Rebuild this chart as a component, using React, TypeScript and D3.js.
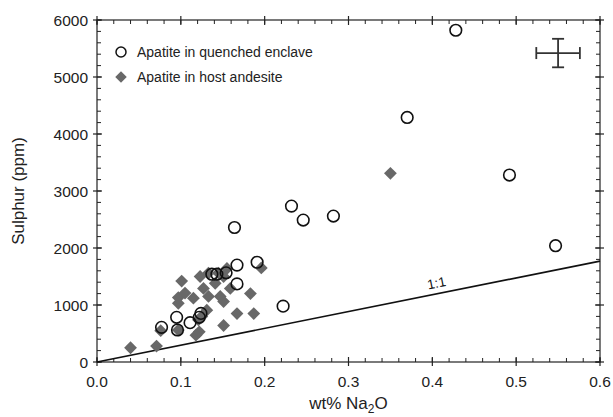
import React from "react";
import * as d3 from "d3";

const enclaveNa2O = [0.428, 0.37, 0.492, 0.547, 0.282, 0.232, 0.246, 0.164, 0.167, 0.191, 0.167, 0.222, 0.137, 0.143, 0.154, 0.077, 0.095, 0.096, 0.111, 0.122, 0.124];
const enclaveS = [5820, 4290, 3280, 2040, 2560, 2735, 2490, 2360, 1700, 1750, 1370, 980, 1540, 1540, 1565, 608, 784, 561, 690, 784, 853];

const hostNa2O = [0.04, 0.071, 0.076, 0.097, 0.118, 0.122, 0.121, 0.131, 0.151, 0.167, 0.187, 0.151, 0.097, 0.097, 0.105, 0.115, 0.133, 0.147, 0.127, 0.159, 0.183, 0.101, 0.123, 0.141, 0.151, 0.155, 0.133, 0.196, 0.35, 0.125, 0.145];
const hostS = [250, 280, 550, 560, 470, 530, 740, 910, 640, 850, 850, 1060, 1030, 1130, 1210, 1120, 1150, 1150, 1290, 1290, 1200, 1420, 1500, 1380, 1500, 1640, 1560, 1650, 3310, 800, 1560];

const xTicks = [0, 0.1, 0.2, 0.3, 0.4, 0.5, 0.6];
const yTicks = [0, 1000, 2000, 3000, 4000, 5000, 6000];
const legendLabels = ["Apatite in quenched enclave", "Apatite in host andesite"];
const oneToOneX = [0, 0.6];
const oneToOneY = [0, 1770];
const errCenter = [0.55, 5420];
const errSize = [0.026, 250];

const W = 613, H = 417;
const L = 97, R = 600, T = 20, B = 362;
const FONT = "'Liberation Sans', Arial, Helvetica, sans-serif";

export default function App() {
  const x = d3.scaleLinear().domain([0, 0.6]).range([L, R]);
  const y = d3.scaleLinear().domain([0, 6000]).range([B, T]);
  const xMinor = d3.range(0, 0.6001, 0.02);
  const yMinor = d3.range(0, 6001, 200);
  const col = "#222";
  const diamond = d3.symbol().type(d3.symbolSquare).size(82)();
  const legDiamond = d3.symbol().type(d3.symbolSquare).size(66)();
  const line = d3.line<number>().x((d, i) => x(oneToOneX[i])).y((d, i) => y(oneToOneY[i]));
  const ang = (Math.atan2(y(0) - y(oneToOneY[1]), x(oneToOneX[1]) - x(0)) * 180) / Math.PI;
  const lx = x(0.406);
  const ly = y((0.406 * oneToOneY[1]) / oneToOneX[1]) - 6;
  const ex = x(errCenter[0]), ey = y(errCenter[1]);
  const ex0 = x(errCenter[0] - errSize[0]), ex1 = x(errCenter[0] + errSize[0]);
  const ey0 = y(errCenter[1] - errSize[1]), ey1 = y(errCenter[1] + errSize[1]);
  return (
    <svg width={W} height={H} style={{ position: "absolute", left: 0, top: 0, background: "#fff" }} fontFamily={FONT}>
      <rect x={0} y={0} width={W} height={H} fill="#fff" />
      {xMinor.map((v, i) => (
        <g key={"xm" + i} stroke={col} strokeWidth={1}>
          <line x1={x(v)} x2={x(v)} y1={B} y2={B - 4} />
          <line x1={x(v)} x2={x(v)} y1={T} y2={T + 4} />
        </g>
      ))}
      {yMinor.map((v, i) => (
        <g key={"ym" + i} stroke={col} strokeWidth={1}>
          <line x1={L} x2={L + 4} y1={y(v)} y2={y(v)} />
          <line x1={R} x2={R - 4} y1={y(v)} y2={y(v)} />
        </g>
      ))}
      {xTicks.map((v, i) => (
        <g key={"xt" + i}>
          <line x1={x(v)} x2={x(v)} y1={B + 4} y2={B - 5} stroke={col} strokeWidth={1.2} />
          <line x1={x(v)} x2={x(v)} y1={T - 4} y2={T + 5} stroke={col} strokeWidth={1.2} />
          <text x={x(v)} y={B + 25} textAnchor="middle" fontSize={15.5} fill="#222">{v.toFixed(1)}</text>
        </g>
      ))}
      {yTicks.map((v, i) => (
        <g key={"yt" + i}>
          <line x1={L - 4} x2={L + 5} y1={y(v)} y2={y(v)} stroke={col} strokeWidth={1.2} />
          <line x1={R + 4} x2={R - 5} y1={y(v)} y2={y(v)} stroke={col} strokeWidth={1.2} />
          <text x={L - 9} y={y(v) + 5.5} textAnchor="end" fontSize={15.5} fill="#222">{v}</text>
        </g>
      ))}
      <rect x={L} y={T} width={R - L} height={B - T} fill="none" stroke={col} strokeWidth={1.2} />
      <path d={line(oneToOneX) || ""} stroke="#111" strokeWidth={1.6} fill="none" />
      <text x={lx} y={ly} transform={`rotate(${-ang} ${lx} ${ly})`} textAnchor="middle" fontSize={13.5} fill="#111">1:1</text>
      <g stroke="#333" strokeWidth={1.8}>
        <line x1={ex0} x2={ex1} y1={ey} y2={ey} />
        <line x1={ex} x2={ex} y1={ey0} y2={ey1} />
        <line x1={ex0} x2={ex0} y1={ey - 6} y2={ey + 6} />
        <line x1={ex1} x2={ex1} y1={ey - 6} y2={ey + 6} />
        <line x1={ex - 6} x2={ex + 6} y1={ey0} y2={ey0} />
        <line x1={ex - 6} x2={ex + 6} y1={ey1} y2={ey1} />
      </g>
      {hostNa2O.map((v, i) => (
        <path key={"h" + i} d={diamond} transform={`translate(${x(v)},${y(hostS[i])}) rotate(45)`} fill="#686868" />
      ))}
      {enclaveNa2O.map((v, i) => (
        <circle key={"e" + i} cx={x(v)} cy={y(enclaveS[i])} r={5.8} fill="none" stroke="#111" strokeWidth={1.6} />
      ))}
      <circle cx={121} cy={52} r={5} fill="none" stroke="#111" strokeWidth={1.5} />
      <text x={137} y={57} fontSize={14} fill="#222">{legendLabels[0]}</text>
      <path d={legDiamond} transform="translate(121,77) rotate(45)" fill="#686868" />
      <text x={137} y={82} fontSize={14} fill="#222">{legendLabels[1]}</text>
      <text x={(L + R) / 2} y={409} textAnchor="middle" fontSize={17} fill="#222">
        wt% Na<tspan fontSize={12} dy={4}>2</tspan><tspan dy={-4}>O</tspan>
      </text>
      <text transform={`translate(24,${(T + B) / 2}) rotate(-90)`} textAnchor="middle" fontSize={17} fill="#222">Sulphur (ppm)</text>
    </svg>
  );
}
